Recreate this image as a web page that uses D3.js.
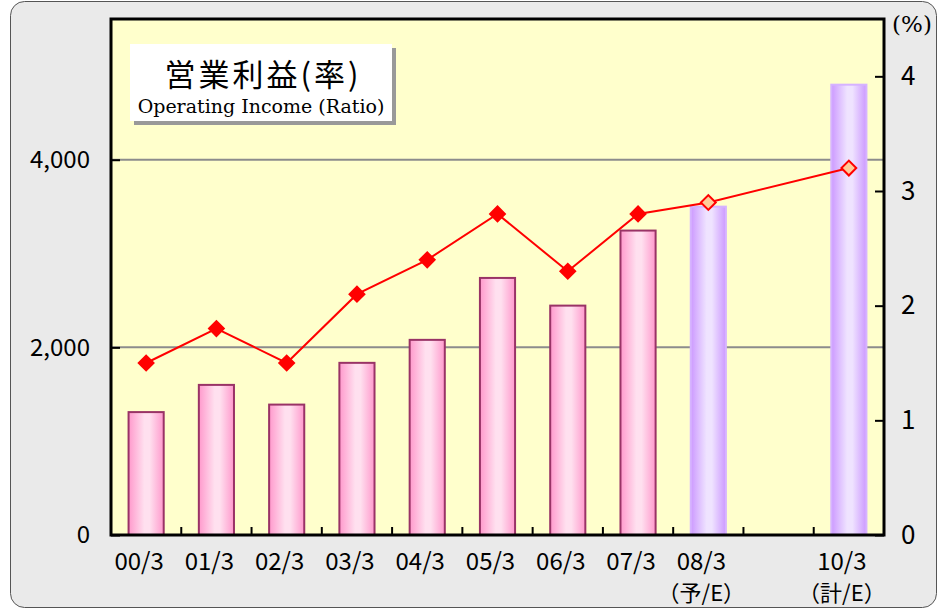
<!DOCTYPE html>
<html>
<head>
<meta charset="utf-8">
<script src="https://cdn.jsdelivr.net/npm/d3@7/dist/d3.min.js"></script>
<style>
  html, body { margin: 0; padding: 0; background: #ffffff; }
  svg { display: block; }
</style>
</head>
<body>
<script>
// data
var categories = ["00/3", "01/3", "02/3", "03/3", "04/3", "05/3", "06/3", "07/3", "08/3", "09/3", "10/3"];
var subLabels  = ["", "", "", "", "", "", "", "", "（予/E）", "", "（計/E）"];
var shownLabel = [true, true, true, true, true, true, true, true, true, false, true];
var income     = [1310, 1600, 1390, 1835, 2080, 2740, 2445, 3245, 3500, null, 4800];
var ratio      = [1.5, 1.8, 1.5, 2.1, 2.4, 2.8, 2.3, 2.8, 2.9, null, 3.2];
var estimate   = [false, false, false, false, false, false, false, false, true, false, true];
var leftTicks  = [0, 2000, 4000];
var rightTicks = [0, 1, 2, 3, 4];

var W = 939, H = 611;
var plot = { left: 111, top: 19, right: 884, bottom: 535 };
var jpFont = "'Noto Sans CJK JP', 'Noto Sans', sans-serif";
var serifFont = "'DejaVu Serif', 'Liberation Serif', serif";

var svg = d3.select("body").append("svg")
    .attr("width", W)
    .attr("height", H);

var defs = svg.append("defs");

function barGradient(id, edge, mid) {
    var g = defs.append("linearGradient")
        .attr("id", id)
        .attr("x1", "0%").attr("x2", "100%")
        .attr("y1", "0%").attr("y2", "0%");
    g.append("stop").attr("offset", "0%").attr("stop-color", edge);
    g.append("stop").attr("offset", "45%").attr("stop-color", mid);
    g.append("stop").attr("offset", "60%").attr("stop-color", mid);
    g.append("stop").attr("offset", "100%").attr("stop-color", edge);
}
barGradient("pinkBar", "#ff99cc", "#ffe0ef");
barGradient("purpleBar", "#cc99ff", "#efe3ff");

// outer panel
svg.append("rect")
    .attr("x", 10.5).attr("y", 1.5)
    .attr("width", 926).attr("height", 606)
    .attr("rx", 14).attr("ry", 14)
    .attr("fill", "#eaeaea")
    .attr("stroke", "#555555")
    .attr("stroke-width", 1);

// plot background
svg.append("rect")
    .attr("x", plot.left).attr("y", plot.top)
    .attr("width", plot.right - plot.left)
    .attr("height", plot.bottom - plot.top)
    .attr("fill", "#ffffcc");

var x = d3.scaleBand()
    .domain(categories)
    .range([plot.left, plot.right])
    .paddingInner(0)
    .paddingOuter(0);

var yLeft = d3.scaleLinear()
    .domain([0, 5500])
    .range([plot.bottom, plot.top]);

var yRight = d3.scaleLinear()
    .domain([0, 4.5])
    .range([plot.bottom, plot.top]);

// gridlines at labelled left ticks
svg.append("g")
    .selectAll("line")
    .data(leftTicks.filter(function(d) { return d > 0; }))
    .enter().append("line")
    .attr("x1", plot.left).attr("x2", plot.right)
    .attr("y1", function(d) { return yLeft(d); })
    .attr("y2", function(d) { return yLeft(d); })
    .attr("stroke", "#8c8c8c")
    .attr("stroke-width", 2);

// bars
var bw = x.bandwidth() * 0.5;
svg.append("g")
    .selectAll("rect")
    .data(categories.map(function(c, i) {
        return { cat: c, v: income[i], est: estimate[i] };
    }).filter(function(d) { return d.v !== null; }))
    .enter().append("rect")
    .attr("x", function(d) { return x(d.cat) + (x.bandwidth() - bw) / 2; })
    .attr("y", function(d) { return yLeft(d.v); })
    .attr("width", bw)
    .attr("height", function(d) { return plot.bottom - yLeft(d.v); })
    .attr("fill", function(d) { return d.est ? "url(#purpleBar)" : "url(#pinkBar)"; })
    .attr("stroke", function(d) { return d.est ? "#d6b3ff" : "#993366"; })
    .attr("stroke-width", 2);

// ratio line
var pts = categories.map(function(c, i) {
    return { cat: c, v: ratio[i], est: estimate[i] };
}).filter(function(d) { return d.v !== null; });

var line = d3.line()
    .x(function(d) { return x(d.cat) + x.bandwidth() / 2; })
    .y(function(d) { return yRight(d.v); });

svg.append("path")
    .datum(pts)
    .attr("d", line)
    .attr("fill", "none")
    .attr("stroke", "#ff0000")
    .attr("stroke-width", 2);

var diamond = d3.symbol().type(d3.symbolSquare).size(110);
svg.append("g")
    .selectAll("path")
    .data(pts)
    .enter().append("path")
    .attr("d", diamond)
    .attr("transform", function(d) {
        return "translate(" + (x(d.cat) + x.bandwidth() / 2) + "," + yRight(d.v) + ") rotate(45)";
    })
    .attr("fill", function(d) { return d.est ? "#ffcc99" : "#ff0000"; })
    .attr("stroke", "#ff0000")
    .attr("stroke-width", 2);

// plot frame
svg.append("rect")
    .attr("x", plot.left).attr("y", plot.top)
    .attr("width", plot.right - plot.left)
    .attr("height", plot.bottom - plot.top)
    .attr("fill", "none")
    .attr("stroke", "#000000")
    .attr("stroke-width", 3);

// left axis
var gL = svg.append("g")
    .attr("transform", "translate(" + plot.left + ",0)")
    .call(d3.axisLeft(yLeft).tickValues(leftTicks).tickSizeInner(-9).tickSizeOuter(0)
        .tickPadding(21).tickFormat(d3.format(",")));
gL.select(".domain").remove();
gL.selectAll("line").attr("stroke", "#000").attr("stroke-width", 2);
gL.selectAll("text").attr("font-family", jpFont).attr("font-size", 24).attr("fill", "#000");

// right axis
var gR = svg.append("g")
    .attr("transform", "translate(" + plot.right + ",0)")
    .call(d3.axisRight(yRight).tickValues(rightTicks).tickSizeInner(-9).tickSizeOuter(0)
        .tickPadding(17).tickFormat(d3.format("d")));
gR.select(".domain").remove();
gR.selectAll("line").attr("stroke", "#000").attr("stroke-width", 2);
gR.selectAll("text").attr("font-family", jpFont).attr("font-size", 26).attr("fill", "#000");

svg.append("text")
    .attr("x", 912).attr("y", 32)
    .attr("text-anchor", "middle")
    .attr("font-family", serifFont)
    .attr("font-size", 23)
    .text("(%)");

// x axis ticks between categories
var gX = svg.append("g")
    .attr("transform", "translate(0," + plot.bottom + ")");
gX.selectAll("line")
    .data(categories.slice(1))
    .enter().append("line")
    .attr("x1", function(d) { return x(d); })
    .attr("x2", function(d) { return x(d); })
    .attr("y1", 0).attr("y2", -8)
    .attr("stroke", "#000").attr("stroke-width", 2);

// labels sit slightly left of the bar centres in the original
var labelShift = -7;
gX.selectAll("text.cat")
    .data(categories.filter(function(c, i) { return shownLabel[i]; }))
    .enter().append("text")
    .attr("class", "cat")
    .attr("x", function(d) { return x(d) + x.bandwidth() / 2 + labelShift; })
    .attr("y", 35)
    .attr("text-anchor", "middle")
    .attr("font-family", jpFont)
    .attr("font-size", 24)
    .text(function(d) { return d; });

gX.selectAll("text.sub")
    .data(categories.filter(function(c, i) { return subLabels[i] !== ""; }))
    .enter().append("text")
    .attr("class", "sub")
    .attr("x", function(d) { return x(d) + x.bandwidth() / 2 + labelShift; })
    .attr("y", 66)
    .attr("text-anchor", "middle")
    .attr("font-family", jpFont)
    .attr("font-size", 22)
    .text(function(d) { return subLabels[categories.indexOf(d)]; });

// title box
var tb = { x: 130, y: 44, w: 262, h: 77 };
svg.append("rect")
    .attr("x", tb.x + 4).attr("y", tb.y + 4)
    .attr("width", tb.w).attr("height", tb.h)
    .attr("fill", "#999999");
svg.append("rect")
    .attr("x", tb.x).attr("y", tb.y)
    .attr("width", tb.w).attr("height", tb.h)
    .attr("fill", "#ffffff");
svg.append("text")
    .attr("x", tb.x + tb.w / 2 + 2).attr("y", 86)
    .attr("text-anchor", "middle")
    .attr("font-family", jpFont)
    .attr("font-size", 31)
    .attr("letter-spacing", 3)
    .text("営業利益(率)");
svg.append("text")
    .attr("x", tb.x + tb.w / 2).attr("y", 113)
    .attr("text-anchor", "middle")
    .attr("font-family", serifFont)
    .attr("font-size", 19)
    .text("Operating Income (Ratio)");
</script>
</body>
</html>
